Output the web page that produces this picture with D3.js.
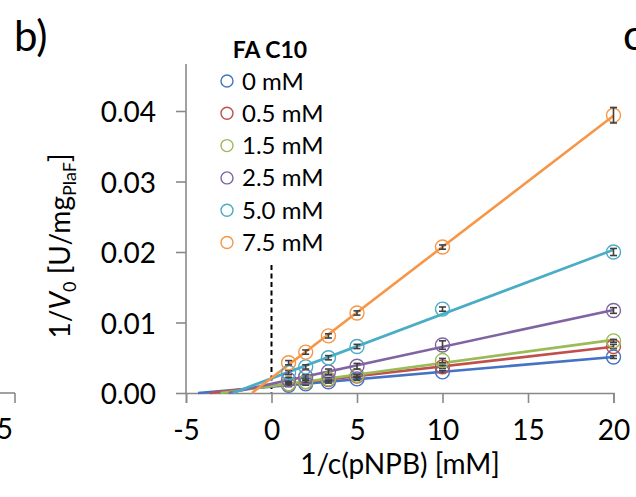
<!DOCTYPE html>
<html>
<head>
<meta charset="utf-8">
<script src="https://cdn.jsdelivr.net/npm/d3@7"></script>
<style>
  html, body { margin: 0; padding: 0; background: #fff; }
  svg { display: block; font-family: Lato, "Open Sans", sans-serif; }
</style>
</head>
<body>
<svg id="chart" width="636" height="497"></svg>
<script>
// ---- data ----
const xValues = [1, 2, 3.33, 5, 10, 20];           // 1/c(pNPB) [mM]
const seriesNames = ["0 mM", "0.5 mM", "1.5 mM", "2.5 mM", "5.0 mM", "7.5 mM"];
const seriesColors = ["#4472C4", "#C0504D", "#9BBB59", "#8064A2", "#4BACC6", "#F79646"];
const y0mM   = [0.0011, 0.0013, 0.0016, 0.0020, 0.0030, 0.0051];
const y05mM  = [0.0013, 0.0016, 0.0019, 0.0024, 0.0037, 0.0066];
const y15mM  = [0.0013, 0.0016, 0.0020, 0.0025, 0.0046, 0.0074];
const y25mM  = [0.0019, 0.0023, 0.0030, 0.0038, 0.0068, 0.0117];
const y50mM  = [0.0029, 0.0037, 0.0050, 0.0066, 0.0119, 0.0200];
const y75mM  = [0.0043, 0.0058, 0.0081, 0.01135, 0.0207, 0.0394];
const e0mM   = [0.0002, 0.0002, 0.0002, 0.0002, 0.0002, 0.0002];
const e05mM  = [0.0002, 0.0002, 0.0002, 0.0002, 0.0002, 0.0003];
const e15mM  = [0.0002, 0.0002, 0.0002, 0.0002, 0.0003, 0.0002];
const e25mM  = [0.0003, 0.0003, 0.0004, 0.0004, 0.0006, 0.0004];
const e50mM  = [0.0003, 0.0003, 0.0003, 0.0003, 0.0003, 0.0005];
const e75mM  = [0.0003, 0.0003, 0.0003, 0.0003, 0.0003, 0.0011];
const xTicks = [-5, 0, 5, 10, 15, 20];
const yTicks = [0, 0.01, 0.02, 0.03, 0.04];
const legendTitle = "FA C10";

const seriesY = [y0mM, y05mM, y15mM, y25mM, y50mM, y75mM];
const seriesE = [e0mM, e05mM, e15mM, e25mM, e50mM, e75mM];

// ---- layout ----
const svg = d3.select("#chart");
const x = d3.scaleLinear().domain([-5, 20]).range([186, 613.5]);
const y = d3.scaleLinear().domain([0, 0.04]).range([393, 111]);
const yTop = 64;
const axisColor = "#898989";

// panel labels and neighbouring fragments
svg.append("text").attr("x", 14).attr("y", 51).attr("font-size", 42).attr("fill", "#000").text("b)");
svg.append("text").attr("x", 623).attr("y", 50).attr("font-size", 42).attr("fill", "#000").text("c)");
svg.append("line").attr("x1", 0).attr("x2", 15).attr("y1", 393).attr("y2", 393)
  .attr("stroke", axisColor).attr("stroke-width", 1.6);
svg.append("line").attr("x1", 15).attr("x2", 15).attr("y1", 393).attr("y2", 403)
  .attr("stroke", axisColor).attr("stroke-width", 1.6);
svg.append("text").attr("x", 13).attr("y", 439).attr("font-size", 28).attr("text-anchor", "end").text("5");

// axes
const yAxis = d3.axisLeft(y).tickValues(yTicks).tickFormat(d3.format(".2f")).tickSize(10).tickPadding(20);
const gy = svg.append("g").attr("transform", `translate(${x(-5)},0)`).call(yAxis);
gy.select(".domain").remove();
gy.append("line").attr("x1", 0).attr("x2", 0).attr("y1", yTop).attr("y2", y(0))
  .attr("stroke", axisColor).attr("stroke-width", 1.6);
gy.selectAll(".tick line").attr("stroke", axisColor).attr("stroke-width", 1.6);
gy.selectAll(".tick text").attr("font-size", 28).attr("fill", "#000")
  .attr("font-family", "Lato, sans-serif").attr("dy", "0.38em");

const xAxis = d3.axisBottom(x).tickValues(xTicks).tickFormat(d => String(d)).tickSize(10).tickPadding(17);
const gx = svg.append("g").attr("transform", `translate(0,${y(0)})`).call(xAxis);
gx.select(".domain").attr("stroke", axisColor).attr("stroke-width", 1.6);
gx.selectAll(".tick line").attr("stroke", axisColor).attr("stroke-width", 1.6);
gx.selectAll(".tick text").attr("font-size", 28).attr("fill", "#000")
  .attr("font-family", "Lato, sans-serif").attr("dy", "0.71em");

// axis titles
svg.append("text").attr("x", 400).attr("y", 474).attr("font-size", 28)
  .attr("text-anchor", "middle").text("1/c(pNPB) [mM]");

const yt = svg.append("text").attr("transform", "translate(70,246) rotate(-90)")
  .attr("font-size", 28).attr("text-anchor", "middle");
yt.append("tspan").text("1/");
yt.append("tspan").attr("font-style", "italic").text("V");
yt.append("tspan").attr("font-size", 18).attr("dy", 6).text("0");
yt.append("tspan").attr("dy", -6).text(" [U/mg");
yt.append("tspan").attr("font-size", 18).attr("dy", 6).text("PlaF");
yt.append("tspan").attr("dy", -6).text("]");

// dashed line at x = 0
svg.append("line").attr("x1", x(0)).attr("x2", x(0)).attr("y1", 265).attr("y2", y(0))
  .attr("stroke", "#000").attr("stroke-width", 2).attr("stroke-dasharray", "5,3.5");

// regression lines
function fit(xs, ys) {
  const n = xs.length;
  const mx = d3.mean(xs), my = d3.mean(ys);
  let sxy = 0, sxx = 0;
  for (let i = 0; i < n; i++) { sxy += (xs[i] - mx) * (ys[i] - my); sxx += (xs[i] - mx) ** 2; }
  const b = sxy / sxx;
  return { a: my - b * mx, b };
}
const plot = svg.append("g");
seriesY.forEach((ys, i) => {
  const f = fit(xValues, ys);
  const xStart = Math.max(-5, -f.a / f.b);
  plot.append("line")
    .attr("x1", x(xStart)).attr("y1", y(f.a + f.b * xStart))
    .attr("x2", x(20)).attr("y2", y(f.a + f.b * 20))
    .attr("stroke", seriesColors[i]).attr("stroke-width", 2.6);
});

// markers and error bars
seriesY.forEach((ys, i) => {
  const g = plot.append("g");
  const pts = xValues.map((xv, j) => ({ x: xv, y: ys[j], e: seriesE[i][j] }));
  g.selectAll("circle").data(pts).join("circle")
    .attr("cx", d => x(d.x)).attr("cy", d => y(d.y)).attr("r", 7)
    .attr("fill", "none").attr("stroke", seriesColors[i]).attr("stroke-width", 1.4);
  const eb = g.selectAll("g.eb").data(pts).join("g").attr("class", "eb")
    .attr("stroke", "#404040").attr("stroke-width", 1.6);
  eb.append("line").attr("x1", d => x(d.x)).attr("x2", d => x(d.x))
    .attr("y1", d => y(d.y - d.e)).attr("y2", d => y(d.y + d.e));
  eb.append("line").attr("x1", d => x(d.x) - 3.5).attr("x2", d => x(d.x) + 3.5)
    .attr("y1", d => y(d.y - d.e)).attr("y2", d => y(d.y - d.e));
  eb.append("line").attr("x1", d => x(d.x) - 3.5).attr("x2", d => x(d.x) + 3.5)
    .attr("y1", d => y(d.y + d.e)).attr("y2", d => y(d.y + d.e));
});

// legend
svg.append("text").attr("x", 270).attr("y", 58).attr("font-size", 23).attr("font-weight", "bold")
  .attr("text-anchor", "middle").text(legendTitle);
const leg = svg.append("g");
seriesNames.forEach((name, i) => {
  const cy = 81 + i * 32.3;
  leg.append("circle").attr("cx", 227).attr("cy", cy).attr("r", 6)
    .attr("fill", "none").attr("stroke", seriesColors[i]).attr("stroke-width", 1.4);
  leg.append("text").attr("x", 242).attr("y", cy + 8.5).attr("font-size", 24).text(name);
});
</script>
</body>
</html>
